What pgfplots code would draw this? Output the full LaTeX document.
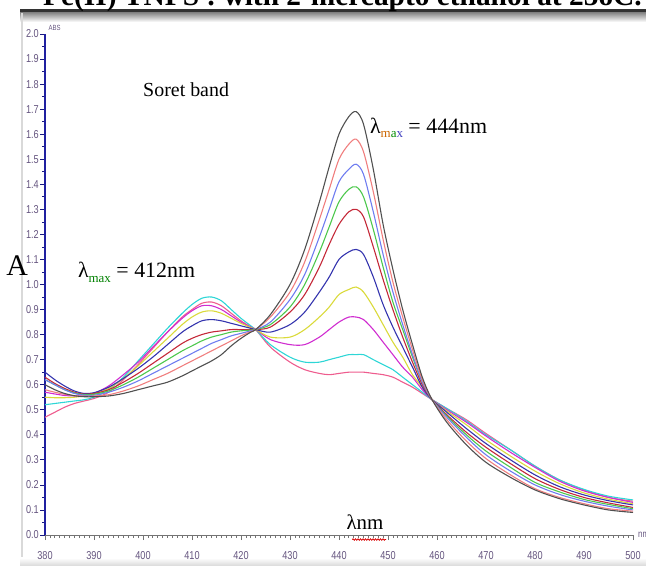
\documentclass[border=0pt]{standalone}
\usepackage{fontspec}
\setmainfont{Liberation Serif}
\setsansfont{Liberation Sans}
\newfontfamily\tickfont[FakeStretch=0.8]{Liberation Sans}
\usepackage{pgfplots}
\pgfplotsset{compat=1.18}
\usepackage{pgfplotstable}
\usetikzlibrary{decorations.pathmorphing}

\definecolor{cBlack}{HTML}{505050}
\definecolor{cSalmon}{HTML}{F07E7E}
\definecolor{cBlue}{HTML}{6E7CF0}
\definecolor{cGreen}{HTML}{4CC84C}
\definecolor{cCrimson}{HTML}{C42838}
\definecolor{cNavy}{HTML}{3434AE}
\definecolor{cYellow}{HTML}{DADA3A}
\definecolor{cMagenta}{HTML}{D02CD0}
\definecolor{cCyan}{HTML}{2ED6D6}
\definecolor{cPink}{HTML}{EE5C8E}
\definecolor{tickcol}{HTML}{65557F}
\definecolor{yaxiscol}{HTML}{2020A0}

% absorbance spectra, one column per time step
\pgfplotstableread{
x     k0    k1    k2    k3    k4    k5    k6    k7    k8    k9
380   0.60  0.58  0.62  0.62  0.63  0.65  0.55  0.57  0.52  0.47
382   0.58  0.57  0.60  0.60  0.605 0.62  0.548 0.563 0.525 0.49
384   0.565 0.562 0.58  0.58  0.585 0.595 0.548 0.557 0.53  0.51
386   0.556 0.556 0.565 0.567 0.57  0.575 0.55  0.555 0.535 0.525
388   0.552 0.554 0.558 0.56  0.562 0.565 0.555 0.556 0.54  0.535
390   0.552 0.555 0.558 0.562 0.565 0.568 0.562 0.565 0.55  0.545
393   0.555 0.56  0.57  0.575 0.58  0.59  0.585 0.595 0.58  0.57
396   0.565 0.575 0.59  0.60  0.61  0.625 0.625 0.64  0.63  0.62
399   0.58  0.595 0.615 0.63  0.645 0.665 0.675 0.69  0.695 0.68
402   0.595 0.62  0.645 0.665 0.685 0.71  0.73  0.75  0.76  0.745
405   0.61  0.645 0.675 0.70  0.725 0.76  0.785 0.81  0.825 0.81
408   0.635 0.675 0.705 0.735 0.765 0.81  0.84  0.865 0.885 0.87
410   0.655 0.695 0.725 0.755 0.785 0.835 0.87  0.895 0.92  0.90
412   0.675 0.715 0.745 0.775 0.80  0.855 0.89  0.915 0.945 0.925
414   0.695 0.735 0.765 0.79  0.81  0.86  0.895 0.915 0.95  0.93
416   0.72  0.755 0.78  0.80  0.815 0.855 0.885 0.90  0.935 0.915
418   0.755 0.775 0.795 0.81  0.82  0.845 0.865 0.875 0.90  0.885
420   0.785 0.795 0.805 0.815 0.82  0.835 0.845 0.85  0.865 0.855
422   0.81  0.812 0.815 0.818 0.82  0.825 0.828 0.83  0.835 0.83
423   0.82  0.82  0.82  0.82  0.82  0.82  0.82  0.82  0.82  0.82
426   0.88  0.87  0.85  0.84  0.83  0.81  0.79  0.78  0.76  0.75
430   1.00  0.97  0.94  0.91  0.89  0.84  0.79  0.76  0.71  0.69
433   1.14  1.09  1.04  1.00  0.96  0.89  0.82  0.76  0.69  0.66
436   1.33  1.26  1.19  1.13  1.07  0.97  0.87  0.79  0.69  0.645
438   1.47  1.38  1.30  1.23  1.16  1.03  0.91  0.82  0.70  0.64
440   1.60  1.50  1.41  1.33  1.24  1.10  0.96  0.85  0.71  0.645
442   1.67  1.56  1.46  1.38  1.29  1.13  0.98  0.87  0.72  0.65
443.5 1.69  1.58  1.48  1.39  1.30  1.14  0.99  0.87  0.72  0.65
445   1.64  1.53  1.44  1.35  1.27  1.12  0.97  0.86  0.72  0.65
447   1.46  1.37  1.29  1.22  1.15  1.03  0.91  0.82  0.70  0.645
449   1.24  1.18  1.12  1.07  1.02  0.92  0.84  0.77  0.68  0.64
451   1.06  1.01  0.97  0.93  0.90  0.83  0.77  0.72  0.66  0.63
453   0.90  0.87  0.84  0.82  0.79  0.75  0.71  0.67  0.63  0.61
455   0.76  0.74  0.72  0.71  0.69  0.67  0.64  0.63  0.60  0.59
457   0.63  0.62  0.61  0.61  0.60  0.59  0.59  0.58  0.57  0.565
459   0.54  0.54  0.54  0.54  0.54  0.54  0.54  0.54  0.54  0.54
462   0.45  0.46  0.47  0.475 0.48  0.49  0.495 0.50  0.505 0.505
466   0.36  0.375 0.39  0.40  0.41  0.425 0.44  0.45  0.455 0.46
470   0.29  0.305 0.32  0.335 0.35  0.365 0.38  0.395 0.40  0.405
475   0.23  0.24  0.255 0.27  0.285 0.30  0.315 0.33  0.34  0.34
480   0.18  0.185 0.20  0.21  0.225 0.24  0.255 0.27  0.275 0.275
485   0.145 0.15  0.162 0.172 0.182 0.193 0.205 0.215 0.22  0.22
490   0.12  0.125 0.135 0.142 0.15  0.16  0.168 0.176 0.182 0.18
495   0.10  0.105 0.115 0.122 0.128 0.137 0.143 0.15  0.155 0.15
500   0.09  0.095 0.10  0.105 0.11  0.12  0.125 0.13  0.14  0.135
}\spectra

\begin{document}
\begin{tikzpicture}
\path[use as bounding box] (0,0) rectangle (646bp,566bp);
\clip (0,0) rectangle (646bp,566bp);
% frame of the plot panel
\fill[black!80] (20bp,553bp) rectangle (646bp,557bp);
\shade[top color=black!45, bottom color=white] (20bp,544bp) rectangle (646bp,553bp);
\draw[black!15, line width=1.5bp] (22bp,0) -- (22bp,553bp);
\shade[top color=white, bottom color=black!15] (20bp,0) rectangle (646bp,8bp);
% title (only its lower part lies inside the page)
\node[anchor=base west, font=\fontsize{29.5}{32}\selectfont\bfseries, inner sep=0pt]
  at (43bp,560bp) {Fe(II) TNPS : with 2-mercapto ethanol at 25oC.};

\begin{axis}[
  at={(45bp,31bp)}, anchor=south west,
  scale only axis, width=588bp, height=501bp,
  xmin=380, xmax=500, ymin=0, ymax=2,
  axis x line*=bottom, axis y line*=left,
  x axis line style={black!55, line width=0.8bp},
  y axis line style={yaxiscol, line width=1.8bp},
  xtick={380,390,...,500}, minor x tick num=9,
  ytick distance=0.1, minor y tick num=1,
  tick align=outside,
  major tick length=5bp, minor tick length=3bp,
  x tick style={black!55, line width=0.7bp},
  y tick style={yaxiscol!80!black, line width=0.7bp},
  /pgf/number format/assume math mode=true,
  ticklabel style={font=\tickfont\fontsize{11.5}{11.5}\selectfont, text=tickcol},
  yticklabel style={/pgf/number format/fixed, /pgf/number format/fixed zerofill,
    /pgf/number format/precision=1, inner sep=1bp},
  xticklabel style={/pgf/number format/1000 sep={}, yshift=-8bp},
  clip=false,
  every axis plot/.append style={line width=1.1pt, smooth},
]
\addplot[cPink]    table[x=x, y=k9] {\spectra};
\addplot[cCyan]    table[x=x, y=k8] {\spectra};
\addplot[cMagenta] table[x=x, y=k7] {\spectra};
\addplot[cYellow]  table[x=x, y=k6] {\spectra};
\addplot[cNavy]    table[x=x, y=k5] {\spectra};
\addplot[cCrimson] table[x=x, y=k4] {\spectra};
\addplot[cGreen]   table[x=x, y=k3] {\spectra};
\addplot[cBlue]    table[x=x, y=k2] {\spectra};
\addplot[cSalmon]  table[x=x, y=k1] {\spectra};
\addplot[cBlack]   table[x=x, y=k0] {\spectra};

% axis labels
\node[anchor=west, font=\tickfont\fontsize{7.5}{7.5}\selectfont, text=tickcol, inner sep=0pt] at (axis cs:380.7,2.025) {ABS};
\node[anchor=west, font=\tickfont\fontsize{10}{10}\selectfont, text=tickcol, inner sep=0pt] at (axis cs:501.0,0.0) {nm};
\node[font=\fontsize{30}{30}\selectfont] at (axis cs:374.3,1.075) {A};
\node[font=\fontsize{21}{21}\selectfont, inner sep=0pt] at (axis cs:445.3,0.05) {λnm};
\draw[red!85!black, line width=0.8bp, decorate, decoration={snake, amplitude=0.7bp, segment length=2.5bp}]
  (axis cs:442.7,-0.018) -- (axis cs:449.6,-0.018);

% annotations
\node[font=\fontsize{20}{22}\selectfont] at (axis cs:408.8,1.776) {Soret band};
\node[anchor=west, font=\fontsize{22}{24}\selectfont, inner sep=0pt] at (axis cs:446.3,1.625)
  {λ\raisebox{-0.22em}{\fontsize{13}{13}\selectfont\textcolor{orange!80!black}{m}\textcolor{green!55!black}{a}\textcolor{blue!50!gray}{x}} = 444nm};
\node[anchor=west, font=\fontsize{22}{24}\selectfont, inner sep=0pt] at (axis cs:386.7,1.05)
  {λ\raisebox{-0.22em}{\fontsize{13}{13}\selectfont\textcolor{green!50!black}{max}} = 412nm};
\end{axis}
\end{tikzpicture}
\end{document}
